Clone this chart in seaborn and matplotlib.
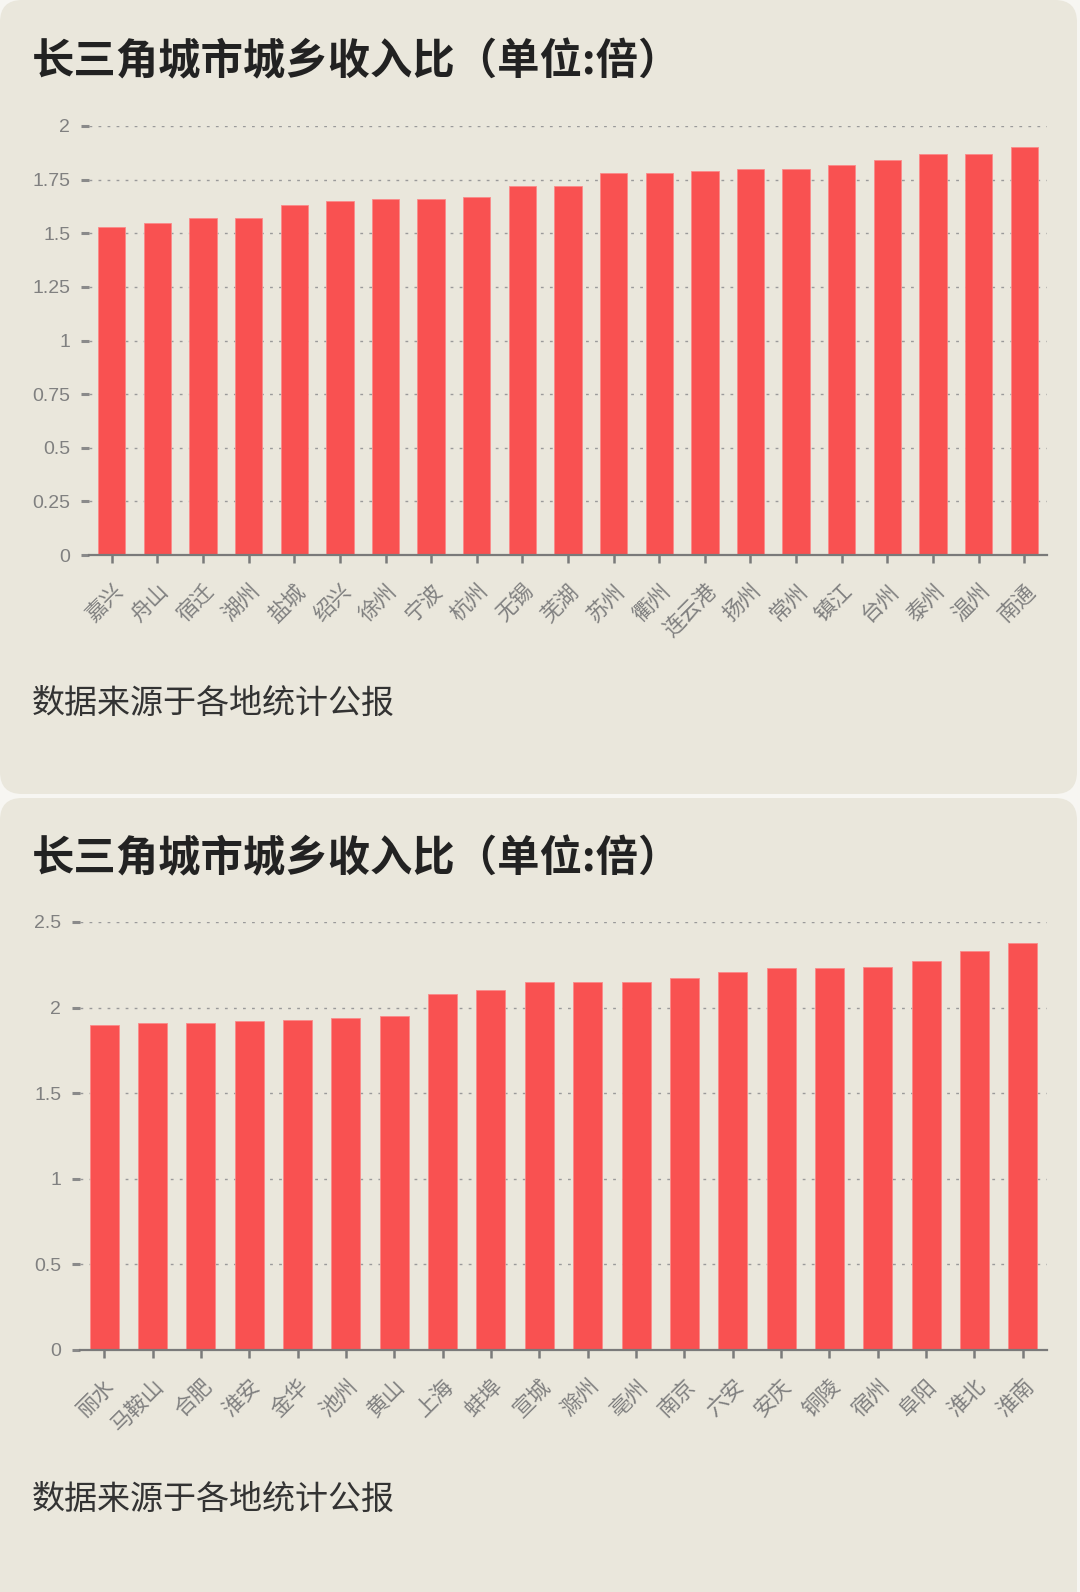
import matplotlib
matplotlib.use("Agg")
import matplotlib.pyplot as plt
from matplotlib.patches import FancyBboxPatch
import matplotlib.transforms as mtransforms
import seaborn as sns

sns.set_theme(style="white")
plt.rcParams['font.family'] = ['Noto Sans CJK SC', 'DejaVu Sans']

# ---------------- data ----------------
title_text = "长三角城市城乡收入比（单位:倍）"
source_text = "数据来源于各地统计公报"

cities_1 = ["嘉兴", "舟山", "宿迁", "湖州", "盐城", "绍兴", "徐州", "宁波", "杭州", "无锡",
            "芜湖", "苏州", "衢州", "连云港", "扬州", "常州", "镇江", "台州", "泰州", "温州", "南通"]
ratio_1 = [1.53, 1.55, 1.57, 1.57, 1.63, 1.65, 1.66, 1.66, 1.67, 1.72,
           1.72, 1.78, 1.78, 1.79, 1.80, 1.80, 1.82, 1.84, 1.87, 1.87, 1.90]
yticks_1 = [0, 0.25, 0.5, 0.75, 1, 1.25, 1.5, 1.75, 2]
yticklabels_1 = ["0", "0.25", "0.5", "0.75", "1", "1.25", "1.5", "1.75", "2"]

cities_2 = ["丽水", "马鞍山", "合肥", "淮安", "金华", "池州", "黄山", "上海", "蚌埠", "宣城",
            "滁州", "亳州", "南京", "六安", "安庆", "铜陵", "宿州", "阜阳", "淮北", "淮南"]
ratio_2 = [1.90, 1.91, 1.91, 1.92, 1.93, 1.94, 1.95, 2.08, 2.10, 2.15,
           2.15, 2.15, 2.17, 2.21, 2.23, 2.23, 2.24, 2.27, 2.33, 2.38]
yticks_2 = [0, 0.5, 1, 1.5, 2, 2.5]
yticklabels_2 = ["0", "0.5", "1", "1.5", "2", "2.5"]

# ---------------- style ----------------
W, H = 1080, 1592
CARD = "#EAE7DC"
BAR = "#F95151"
TICK = "#7a7a7a"
LABEL = "#808080"
NUMFONT = ['Liberation Sans', 'Noto Sans CJK SC', 'DejaVu Sans']

fig = plt.figure(figsize=(W / 100, H / 100), dpi=100)
fig.patch.set_facecolor("#F7F6F2")


def px_box(x0, y0, x1, y1):
    return [x0 / W, 1 - y1 / H, (x1 - x0) / W, (y1 - y0) / H]


def card(y0, y1):
    r = 22
    p = FancyBboxPatch((0 / W, 1 - y1 / H), 1077 / W, (y1 - y0) / H,
                       boxstyle=f"round,pad=0,rounding_size={r / W}",
                       transform=fig.transFigure, facecolor=CARD, edgecolor="none",
                       mutation_aspect=W / H, zorder=-10)
    fig.patches.append(p)


card(0, 794)
card(798, 1620)


def panel(box, cities, vals, ylim, yticks, yticklabels, title_y, source_y):
    ax = fig.add_axes(px_box(*box))
    ax.set_zorder(5)
    ax.set_facecolor("none")
    sns.barplot(x=cities, y=vals, color=BAR, saturation=1, width=0.6, ax=ax,
                edgecolor="#FB8A8A", linewidth=0.6)
    ax.set_ylim(*ylim)
    ax.set_xlim(-0.5, len(cities) - 0.5)
    ax.set_yticks(yticks)
    ax.set_yticklabels(yticklabels, family=NUMFONT, fontsize=14, color=LABEL)
    ax.set_xticks(range(len(cities)))
    ax.set_xticklabels(cities, rotation=45, ha="right", va="top", rotation_mode="anchor",
                       fontsize=15.5, color=LABEL)
    shift = mtransforms.ScaledTranslation(8 / 72, 0, fig.dpi_scale_trans)
    for lab in ax.get_xticklabels():
        lab.set_transform(lab.get_transform() + shift)
    ax.tick_params(axis="y", length=5.5, width=2.2, color="#8a8a8a", pad=8, left=True)
    ax.tick_params(axis="x", length=6, width=1.8, color=TICK, pad=12, bottom=True)
    for s in ["left", "top", "right"]:
        ax.spines[s].set_visible(False)
    ax.spines["bottom"].set_color(TICK)
    ax.spines["bottom"].set_linewidth(1.6)
    ax.set_axisbelow(True)
    ax.yaxis.grid(True, color="#9a9a9a", linestyle=(0, (2, 4.5)), linewidth=1.0)
    ax.xaxis.grid(False)
    ax.set_xlabel("")
    ax.set_ylabel("")
    fig.text(32 / W, 1 - title_y / H, title_text, fontsize=30.5, fontweight="heavy",
             color="#222222", ha="left", va="center")
    fig.text(32 / W, 1 - source_y / H, source_text, fontsize=23.8,
             color="#333333", ha="left", va="center")
    return ax


panel((89, 126, 1047, 555), cities_1, ratio_1, (0, 2), yticks_1, yticklabels_1, 62, 703)
panel((80, 922, 1047, 1350), cities_2, ratio_2, (0, 2.5), yticks_2, yticklabels_2, 859, 1499)

fig.savefig("out.png", dpi=100, facecolor=fig.get_facecolor())
